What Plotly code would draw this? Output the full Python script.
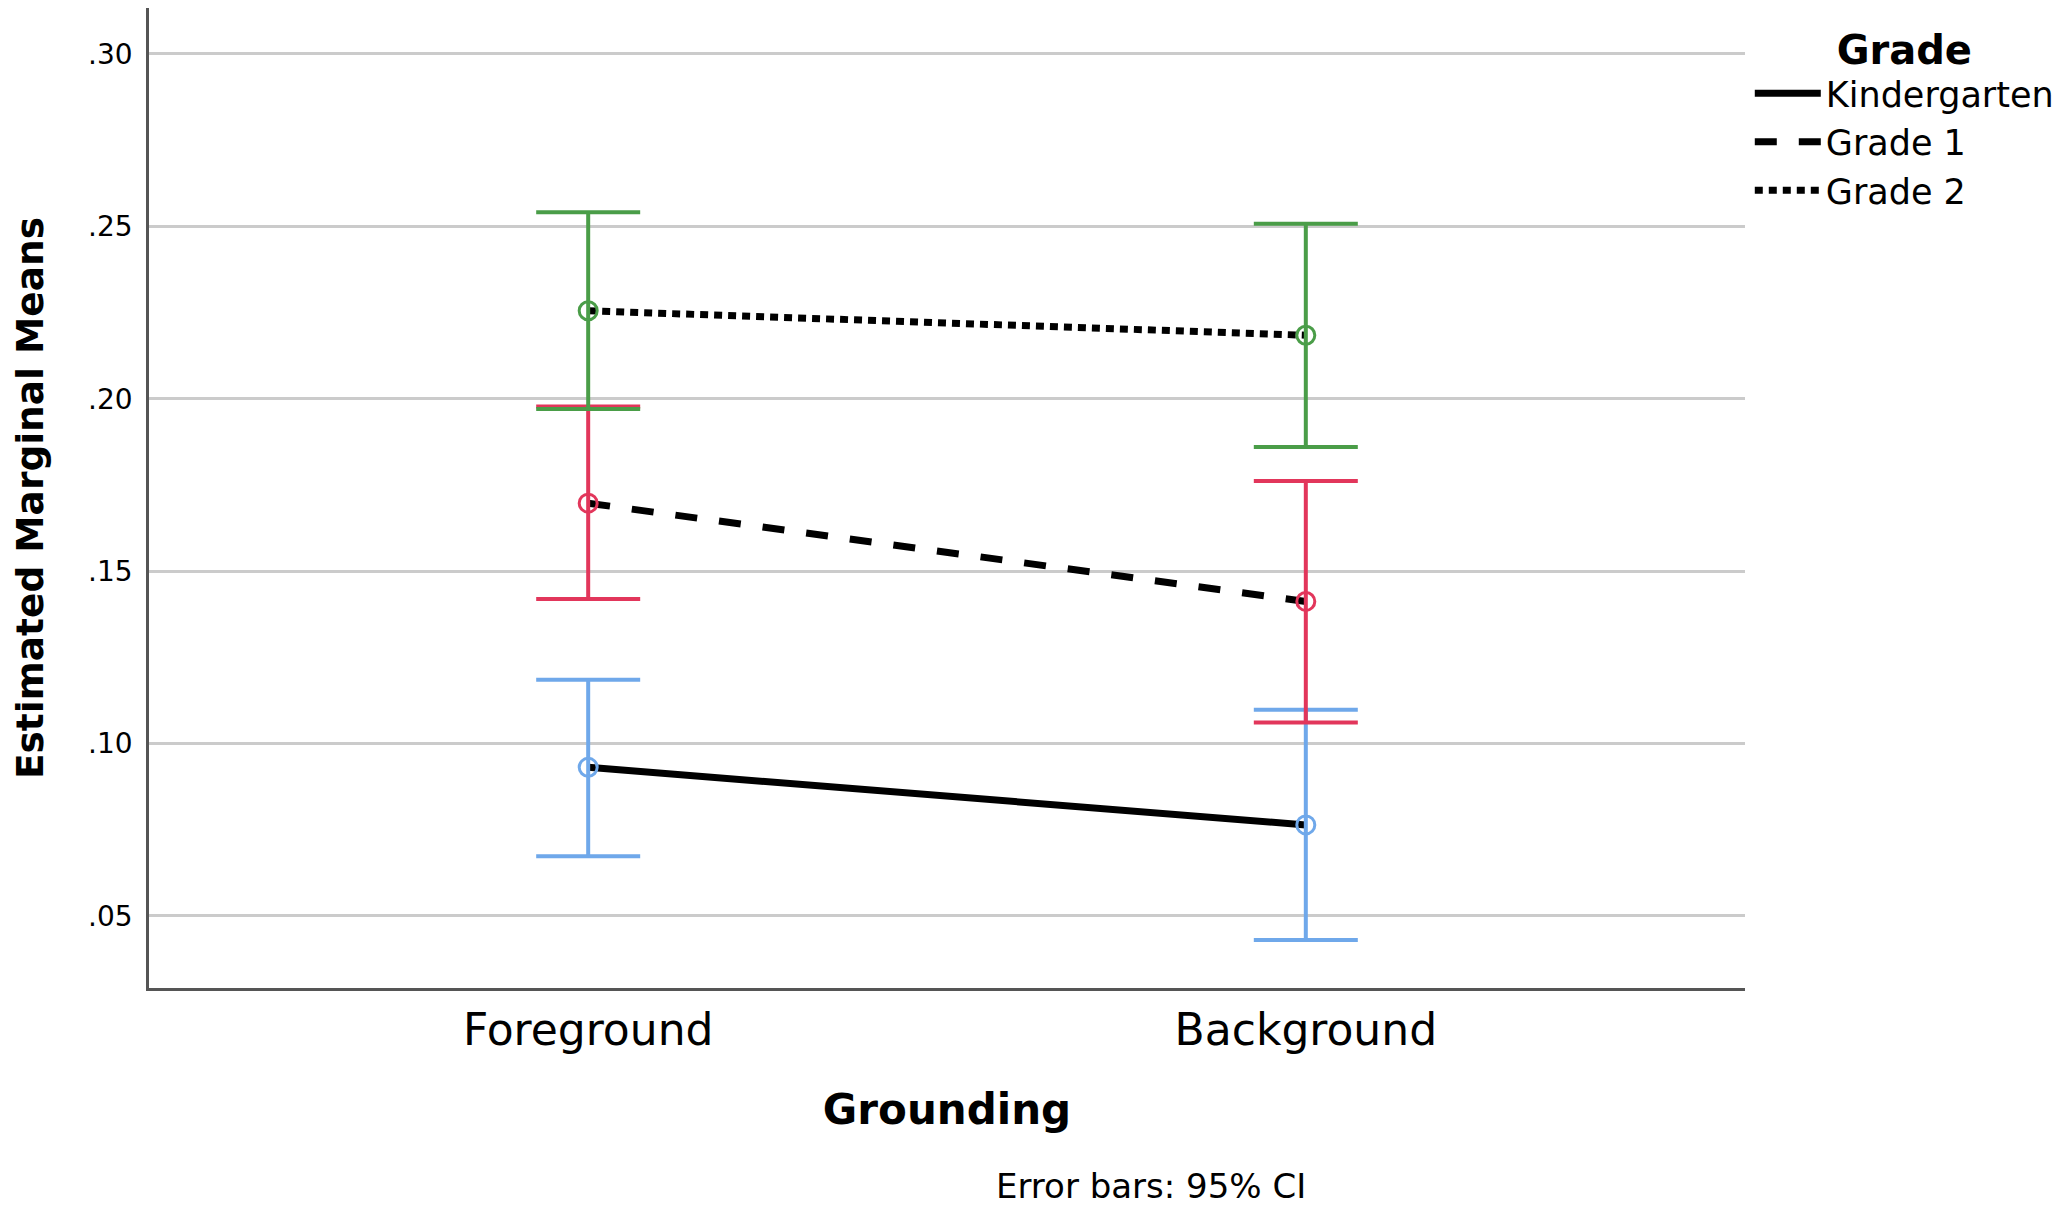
import plotly.graph_objects as go

# ---- data ----
categories = ["Foreground", "Background"]
grades = ["Kindergarten", "Grade 1", "Grade 2"]
means = {
    "Kindergarten": [0.0931, 0.0764],
    "Grade 1": [0.1697, 0.1412],
    "Grade 2": [0.2255, 0.2184],
}
ci_upper = {
    "Kindergarten": [0.1185, 0.1098],
    "Grade 1": [0.1977, 0.1761],
    "Grade 2": [0.2541, 0.2507],
}
ci_lower = {
    "Kindergarten": [0.0673, 0.0430],
    "Grade 1": [0.1419, 0.1061],
    "Grade 2": [0.1970, 0.1860],
}
y_tickvals = [0.05, 0.10, 0.15, 0.20, 0.25, 0.30]
y_ticktext = [".05", ".10", ".15", ".20", ".25", ".30"]

# ---- styles ----
colors = {"Kindergarten": "#6FA8EA", "Grade 1": "#E2365B", "Grade 2": "#4A9D48"}
dashes = {"Kindergarten": "solid", "Grade 1": "22px,22px", "Grade 2": "8px,6px"}
FONT = "DejaVu Sans"

x_pos = list(range(len(categories)))

fig = go.Figure()

# mean lines (black, styled per grade) - these carry the legend
for g in grades:
    fig.add_trace(go.Scatter(
        x=x_pos, y=means[g], mode="lines", name=g,
        line=dict(color="black", width=7, dash=dashes[g]),
        showlegend=True, hoverinfo="skip",
    ))

# markers + 95% CI error bars
for g in grades:
    up = [u - m for u, m in zip(ci_upper[g], means[g])]
    lo = [m - l for m, l in zip(means[g], ci_lower[g])]
    fig.add_trace(go.Scatter(
        x=x_pos, y=means[g], mode="markers", name=g, showlegend=False,
        marker=dict(symbol="circle-open", size=18, color=colors[g],
                    line=dict(width=3, color=colors[g])),
        error_y=dict(type="data", symmetric=False, array=up, arrayminus=lo,
                     color=colors[g], thickness=4, width=52),
    ))

fig.update_layout(
    width=2055, height=1200,
    margin=dict(l=141, r=318, t=0, b=220),
    plot_bgcolor="white", paper_bgcolor="white",
    font=dict(family=FONT, color="black"),
    legend=dict(
        title=dict(text="<b>Grade</b>", font=dict(size=40, family=FONT), side="top center"),
        font=dict(size=35, family=FONT),
        x=1.003, xanchor="left", y=0.996, yanchor="top",
        bgcolor="rgba(0,0,0,0)", itemwidth=66, tracegroupgap=0,
    ),
    annotations=[dict(
        text="Error bars: 95% CI", x=0.628, y=-0.202, xref="paper", yref="paper",
        xanchor="center", yanchor="middle", showarrow=False,
        font=dict(size=34, family=FONT),
    )],
)

fig.update_xaxes(
    range=[-0.612, 1.612], tickmode="array", tickvals=x_pos, ticktext=categories,
    tickfont=dict(size=44, family=FONT), showgrid=False, zeroline=False,
    showline=True, linecolor="#555555", linewidth=2.5, ticks="", ticklabelstandoff=1,
    title=dict(text="<b>Grounding</b>", font=dict(size=42, family=FONT), standoff=42),
)
fig.update_yaxes(
    range=[0.0291, 0.3133], tickmode="array", tickvals=y_tickvals, ticktext=y_ticktext,
    tickfont=dict(size=28, family=FONT), showgrid=True, gridcolor="#CBCBCB", gridwidth=2.5,
    zeroline=False, showline=True, linecolor="#555555", linewidth=2.5, ticks="",
    ticklabelstandoff=8,
    title=dict(text="<b>Estimated Marginal Means</b>", font=dict(size=37.5, family=FONT), standoff=38),
)

fig.write_html("out.html")
